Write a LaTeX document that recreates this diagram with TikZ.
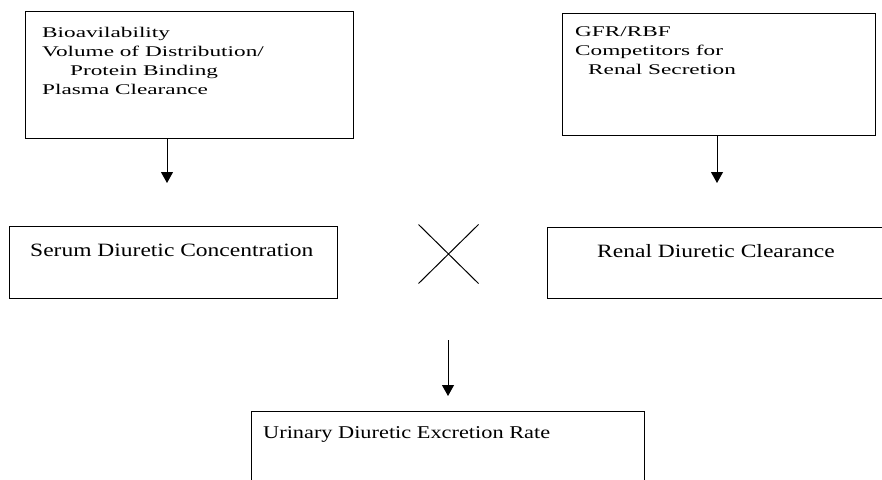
\documentclass[tikz,border=0pt]{standalone}
\usepackage{fontspec}
\setmainfont{Liberation Serif}
\newfontfamily\topf[FakeStretch=1.57]{Liberation Serif}
\newfontfamily\midf[FakeStretch=1.25]{Liberation Serif}
\newfontfamily\lowf[FakeStretch=1.24]{Liberation Serif}
\usetikzlibrary{arrows.meta,shapes.misc}
\begin{document}
\begin{tikzpicture}[x=1pt,y=-1pt,
  boxst/.style={draw,line width=1pt,inner sep=0pt,anchor=north west},
  toptext/.style={anchor=base west,inner sep=0pt,font=\topf\fontsize{14.8}{18}\selectfont},
  midtext/.style={anchor=base west,inner sep=0pt,font=\midf\fontsize{18.8}{22}\selectfont},
  lowtext/.style={anchor=base west,inner sep=0pt,font=\lowf\fontsize{18}{22}\selectfont},
  arr/.style={line width=1pt,-{Triangle[width=12pt,length=11pt]}}]
\useasboundingbox (0,0) rectangle (882,479);
\clip (0,0) rectangle (882,479);
% boxes
\node[boxst,minimum width=328pt,minimum height=127pt] (b1) at (25,11) {};
\node[boxst,minimum width=313pt,minimum height=122pt] (b2) at (562,13) {};
\node[boxst,minimum width=328pt,minimum height=72pt] (b3) at (9,226) {};
\node[boxst,minimum width=400pt,minimum height=71pt] (b4) at (547,227) {};
\node[boxst,minimum width=393pt,minimum height=150pt] (b5) at (251,411) {};
% texts
\node[toptext] (t1a) at (42,37) {Bioavilability};
\node[toptext] (t1b) at (42,56) {Volume of Distribution/};
\node[toptext] (t1c) at (70,75) {Protein Binding};
\node[toptext] (t1d) at (42,94) {Plasma Clearance};
\node[toptext] (t2a) at (575,36) {GFR/RBF};
\node[toptext] (t2b) at (575,55) {Competitors for};
\node[toptext] (t2c) at (588,74) {Renal Secretion};
\node[midtext] (t3) at (30,256) {Serum Diuretic Concentration};
\node[midtext] (t4) at (597,257) {Renal Diuretic Clearance};
\node[lowtext] (t5) at (263,438) {Urinary Diuretic Excretion Rate};
% cross
\node[cross out,draw,line width=1pt,minimum width=59pt,minimum height=58pt,inner sep=0pt] (x) at (448.5,254) {};
% arrows
\coordinate (a1e) at (167,183);
\coordinate (a2e) at (717,183);
\coordinate (a5s) at (448,340);
\coordinate (a5e) at (448,396);
\draw[arr] (b1.south -| a1e) -- (a1e);
\draw[arr] (b2.south -| a2e) -- (a2e);
\draw[arr] (a5s) -- (a5e);
\end{tikzpicture}
\end{document}
